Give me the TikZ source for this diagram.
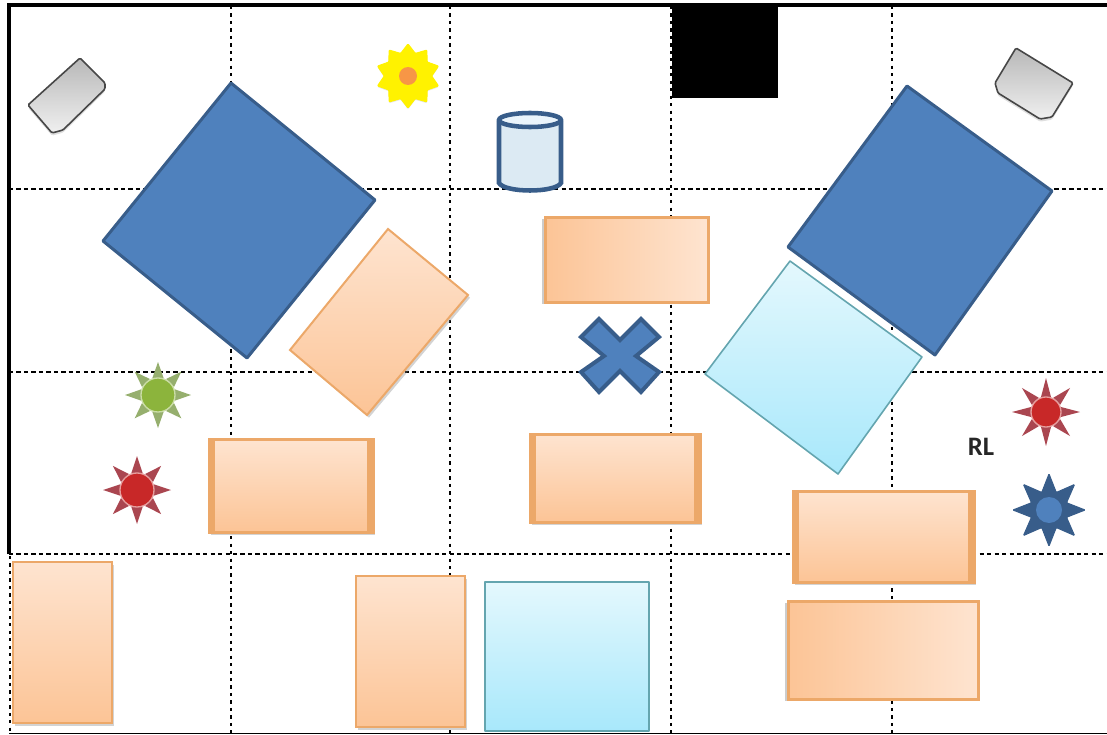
\documentclass[tikz,border=0pt]{standalone}
\usepackage{fontspec}
\setmainfont{Carlito}
\usetikzlibrary{shadows,shapes.geometric}

\definecolor{blueface}{RGB}{79,129,189}
\definecolor{blueedge}{RGB}{56,93,138}
\definecolor{orangeedge}{RGB}{236,168,105}
\definecolor{orangepale}{RGB}{254,228,208}
\definecolor{orangedeep}{RGB}{252,196,150}
\definecolor{cyanedge}{RGB}{100,165,175}
\definecolor{cyanpale}{RGB}{228,248,253}
\definecolor{cyandeep}{RGB}{168,232,251}
\definecolor{redface}{RGB}{200,40,40}
\definecolor{rededge}{RGB}{170,70,80}
\definecolor{greenface}{RGB}{140,180,60}
\definecolor{greenedge}{RGB}{150,175,110}
\definecolor{canface}{RGB}{220,234,243}
\definecolor{cantop}{RGB}{234,244,251}
\definecolor{flowerheart}{RGB}{247,150,70}

\tikzset{
	gridh/.style={line width=1.5pt,dash pattern=on 3.2pt off 2.4pt},
	gridv/.style={line width=1.5pt,dash pattern=on 2.4pt off 3.2pt},
	frameline/.style={line width=3pt},
	bluesquare/.style={draw=blueedge,fill=blueface,line width=2.25pt,line join=round},
	orangebox/.style={draw=orangeedge,line width=2.25pt,top color=orangepale,bottom color=orangedeep,drop shadow={opacity=.35,shadow xshift=1.5pt,shadow yshift=-2pt}},
	orangeside/.style={draw=orangeedge,line width=2.25pt,left color=orangedeep,right color=orangepale,drop shadow={opacity=.4,shadow xshift=-2.5pt,shadow yshift=-1.5pt}},
	sidestrip/.style={draw=orangeedge,line width=4.5pt},
	cyanbox/.style={draw=cyanedge,line width=1.2pt,top color=cyanpale,bottom color=cyandeep,line join=round},
	graybox/.style={draw=black!72,line width=1.2pt,rounded corners=1pt,shading angle=45,top color=black!28,bottom color=black!6,drop shadow={opacity=.25,shadow xshift=0pt,shadow yshift=-2pt}},
	sunray/.style={fill=#1,draw=none},
	sundisc/.style={fill=#1,draw=white!55!#1,line width=1pt},
}

\begin{document}
\begin{tikzpicture}[x=0.75pt,y=0.75pt,yscale=-1,xscale=1]
	\useasboundingbox (0,0) rectangle (1107,735);
	
	% Grid
	\foreach \gx in {231,450,671,892} {
		\draw [gridv] (\gx,6) -- (\gx,733);
	}
	\foreach \gy in {189,372,554} {
		\draw [gridh] (9,\gy) -- (1107,\gy);
	}
	\draw [gridv] (10,556) -- (10,733);
	% Frame
	\draw [frameline] (9,554) -- (9,5) -- (1107,5);
	\draw [line width=1.2pt] (9,733.5) -- (1107,733.5);
	% Black block
	\fill [black] (672,5) rectangle (778,98);
	
	% Large squares
	\draw [bluesquare] (231,83) -- (375,200) -- (247,358) -- (103,241) -- cycle;
	\draw [bluesquare] (907,86) -- (1052,191) -- (935,355) -- (788,247) -- cycle;
	
	% Tilted boxes
	\draw [orangebox,line width=1.5pt] (388,229) -- (468,295) -- (367,415) -- (290,350) -- cycle;
	\draw [cyanbox] (790,261) -- (922,357) -- (838,474) -- (705,374) -- cycle;
	
	% Upright boxes
	\draw [orangeside] (545,217) rectangle (708,302);
	\draw [orangebox] (530,434) rectangle (700,522);
	\draw [orangebox] (209,439) rectangle (373,532);
	\draw [orangebox] (793,491) rectangle (974,582);
	\draw [orangeside] (788,601) rectangle (978,699);
	\draw [orangebox,line width=1.2pt] (13,562) rectangle (112,723);
	\draw [orangebox,line width=1.2pt] (356,576) rectangle (465,727);
	\draw [cyanbox] (485,582) rectangle (649,731);
	% Darker sides
	\foreach \bl/\br/\bt/\bb in {533/697/434/522,212/370/439/532,796/971/491/582} {
		\draw [sidestrip] (\bl,\bt) -- (\bl,\bb);
		\draw [sidestrip] (\br,\bt) -- (\br,\bb);
	}
	
	% Gray devices
	\draw [graybox] (80,58) -- (105,83) -- (105,89) -- (63,130) -- (52,133) -- (28,105) -- cycle;
	\draw [graybox] (1016,48) -- (1073,83) -- (1052,117) -- (1040,119) -- (998,93) -- (995,83) -- cycle;
	
	% Cylinder
	\draw [draw=blueedge,fill=canface,line width=3.4pt] (499,121) -- (499,183) .. controls (505,193) and (555,193) .. (561,183) -- (561,121);
	\draw [draw=blueedge,fill=cantop,line width=3.4pt] (530,120) ellipse (31 and 7);
	
	% Cross
	\draw [bluesquare,line width=3pt,line join=miter] (620,340) -- (641,319) -- (659,337) -- (636,356) -- (659,372) -- (641,392) -- (620,371) -- (599,392) -- (581,372) -- (604,356) -- (581,337) -- (599,319) -- cycle;
	
	% Yellow flower
	\node (flower) [star,star points=10,star point ratio=1.35,minimum size=48pt,inner sep=0pt,fill=yellow,draw=yellow,line width=.8pt,rounded corners=.6pt,drop shadow={opacity=.2,shadow xshift=0pt,shadow yshift=-1pt}] at (408,76) {};
	\fill [flowerheart] (flower.center) circle (9);
	
	% Suns
	\foreach \sx/\sy/\sr/\st/\sc/\se in {137/490/17/34/redface/rededge,158/395/17/33/greenface/greenedge,1046/412/15/34/redface/rededge} {
		\foreach \ang in {0,45,...,315} {
			\fill [sunray=\se] ({\sx+(\sr+1)*cos(\ang-18)},{\sy+(\sr+1)*sin(\ang-18)}) -- ({\sx+\st*cos(\ang)},{\sy+\st*sin(\ang)}) -- ({\sx+(\sr+1)*cos(\ang+18)},{\sy+(\sr+1)*sin(\ang+18)}) -- cycle;
		}
		\draw [sundisc=\sc] (\sx,\sy) circle (\sr);
	}
	
	% Blue star
	\node (bluestar) [star,star points=8,star point ratio=1.9,minimum size=54pt,inner sep=0pt,fill=blueedge,draw=blueedge,line width=.8pt,rounded corners=.6pt] at (1049,510) {};
	\fill [blueface] (bluestar.center) circle (13);
	
	% Text Node
	\node (rl) [font=\bfseries\fontsize{20}{20}\selectfont,text=black!85,inner sep=0pt] at (981,447) {RL};
	
\end{tikzpicture}
\end{document}
